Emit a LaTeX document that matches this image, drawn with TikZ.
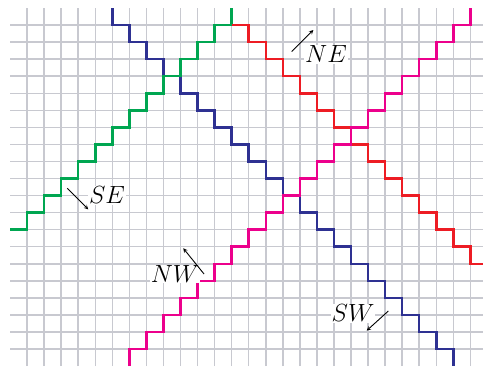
\documentclass[tikz,border=0pt]{standalone}
\definecolor{gridgray}{RGB}{200,201,208}
\definecolor{stairblue}{RGB}{46,49,146}
\definecolor{stairgreen}{RGB}{0,166,81}
\definecolor{stairred}{RGB}{237,28,36}
\definecolor{stairpink}{RGB}{236,0,140}
\begin{document}
\begin{tikzpicture}[
x = 0.6cm, y = 0.6cm,
gridline/.style = {gridgray, line width=1.5pt},
stair/.style = {line width=2.5pt, line join=miter},
dirlabel/.style = {fill=white, inner sep=1pt, font=\fontsize{24}{28}\selectfont},
>=stealth
]
  \useasboundingbox (-0.587,-0.117) rectangle (27.74,21.47);
  \clip (-0.587,-0.117) rectangle (27.74,21.47);
  % grid
  \foreach \x in {1,...,27}
    \draw[gridline] (\x,0) -- (\x,21);
  \foreach \y in {1,...,20}
    \draw[gridline] (0,\y) -- (28,\y);
  % staircases
  \draw[stair, stairblue] (6,21)
    \foreach \k in {6,...,25} { -- (\k,26-\k) -- (\k+1,26-\k) } -- (26,0);
  \draw[stair, stairgreen] (0,8)
    \foreach \m in {0,...,12} { -- (\m+1,8+\m) -- (\m+1,9+\m) };
  \draw[stair, stairred] (13,20)
    \foreach \n in {0,...,13} { -- (14+\n,20-\n) -- (14+\n,19-\n) } -- (28,6);
  \draw[stair, stairpink] (7,0)
    \foreach \k in {7,...,26} { -- (\k,\k-6) -- (\k+1,\k-6) } -- (27,21);
  % labels
  \node[dirlabel] (ne) at (18.53,18.30) {$NE$};
  \node[dirlabel] (se) at (5.69,10.03) {$SE$};
  \node[dirlabel] (nw) at (9.68,5.40) {$NW$};
  \node[dirlabel] (sw) at (20.12,3.11) {$SW$};
  \coordinate (neTail) at (16.52,18.44);
  \coordinate (neTip) at (17.79,19.71);
  \coordinate (seTail) at (3.36,10.43);
  \coordinate (seTip) at (4.59,9.19);
  \coordinate (nwTail) at (11.38,5.40);
  \coordinate (nwTip) at (10.16,6.91);
  \coordinate (swTail) at (22.19,3.23);
  \coordinate (swTip) at (20.92,2.08);
  \draw[->, line width=0.9pt] (neTail) -- (neTip);
  \draw[->, line width=0.9pt] (seTail) -- (seTip);
  \draw[->, line width=0.9pt] (nwTail) -- (nwTip);
  \draw[->, line width=0.9pt] (swTail) -- (swTip);
\end{tikzpicture}
\end{document}
